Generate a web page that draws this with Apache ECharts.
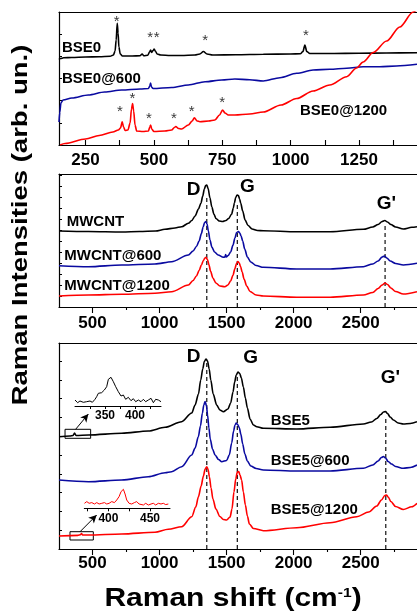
<!DOCTYPE html>
<html><head><meta charset="utf-8">
<script src="https://cdn.jsdelivr.net/npm/echarts@6/dist/echarts.min.js"></script>
<style>html,body{margin:0;padding:0;background:#fff}#c{width:417px;height:612px}</style>
</head><body><div id="c"></div>
<script>
// ---------- Panel 1 : BSE0 (x = Raman shift cm-1, y = intensity arb. un.) ----------
const bse0 = [[153,85.5],[158,86.5],[170,87.2],[200,87.5],[250,88],[300,88.3],[340,88.7],[352,90],[358,94],[362,105],[366,121.7],[369,112],[372,98],[377,91],[385,89],[420,89],[450,89.3],[457,91],[463,89.3],[478,89.8],[484,93],[488,95],[492,92.5],[497,94.5],[501,96],[505,94],[512,91],[525,90],[560,89.5],[600,89.5],[650,90],[668,91],[681,93.5],[694,91],[715,90],[800,90.3],[900,90.8],[1000,91],[1035,91.2],[1045,93.5],[1052,100],[1059,93.5],[1070,91.5],[1150,91.5],[1250,91.8],[1350,92],[1462,92.3]];
const bse0_600 = [[153,23],[156,33],[160,42],[168,45],[200,47],[260,50],[320,53],[382,55],[450,56],[480,56.5],[485,59],[488,62],[491,58],[497,56.5],[565,57.5],[626,60],[687,63.3],[748,65],[796,66],[850,65.3],[900,64],[961,67.3],[1022,71.7],[1082,75],[1143,75.7],[1205,76.7],[1265,78.3],[1326,78.3],[1387,79],[1462,80.7]];
const bse0_1200 = [[157,0],[175,1.5],[250,6],[300,9.5],[350,13],[370,15],[378,17],[384,23.3],[389,18],[395,14.5],[405,15],[413,22],[418,36],[422,41.5],[426,34],[431,20],[437,14],[460,13.5],[480,14],[485,18],[488,20],[492,16],[500,13.5],[540,14],[565,15],[575,17.5],[580,18.5],[590,16.5],[601,16],[626,20],[640,24],[648,27.3],[658,24],[668,23.3],[700,24],[723,25],[740,30],[751,35],[760,32],[772,30],[796,30],[850,31],[900,33],[965,40],[1022,46.5],[1082,54],[1143,60],[1205,68.3],[1241,77],[1265,83],[1302,92.5],[1351,104],[1399,118],[1448,133],[1475,140]];
const bse0Stars = [[364,127.3],[486,110.7],[510,110.7],[687,108.3],[1056,112.7]];
const bse0_1200Stars = [[376,37.3],[421,50],[482,30],[573,30],[638,37.3],[750,45.7]];

// ---------- Panel 2 : MWCNT ----------
const mwcnt = [[250,76],[470,75.5],[720,75],[850,75.5],[970,76],[1040,77.7],[1115,79],[1165,80.3],[1215,83.7],[1240,86.5],[1265,91],[1290,98],[1309,104],[1322,111],[1334,118],[1344,121.5],[1352,122],[1362,118.5],[1376,109],[1390,100],[1405,93],[1421,88.5],[1445,86],[1470,85.5],[1495,86.5],[1515,88.5],[1538,93],[1550,99],[1558,104],[1568,109.5],[1578,112],[1588,111.5],[1597,108],[1605,104],[1620,96],[1638,87],[1660,81.5],[1690,78],[1730,76.5],[1774,76.3],[2023,75.3],[2272,75.3],[2520,77.7],[2590,80],[2630,82.5],[2660,85.5],[2680,86.5],[2700,85],[2725,82.5],[2760,80],[2818,78],[2881,79.7],[2920,80.3]];
const mwcnt_600 = [[250,41.3],[470,40.3],[718,42],[966,43],[1090,45.3],[1215,52],[1250,56],[1275,60.5],[1295,66],[1312,73.5],[1325,80],[1336,84.5],[1345,85.5],[1354,83],[1364,76],[1376,67],[1390,60],[1410,55],[1437,52],[1475,49.7],[1488,50],[1493,52.5],[1498,50],[1512,51.5],[1530,55],[1548,62],[1562,69],[1575,74.5],[1588,75.5],[1598,74],[1608,71],[1620,66],[1635,58],[1655,50],[1680,45],[1720,41.5],[1774,39.7],[2023,38],[2272,38],[2520,40.3],[2590,43],[2630,46],[2660,50],[2677,51],[2695,49],[2720,46],[2760,43.5],[2818,42],[2920,43.7]];
const mwcnt_1200 = [[250,11],[470,12],[718,12.7],[966,13.7],[1090,15.3],[1215,22],[1250,26.5],[1275,31],[1295,36.5],[1312,42],[1327,46.5],[1338,49],[1347,49.8],[1357,47.5],[1368,42.5],[1380,36],[1398,29],[1420,24],[1450,21],[1487,20.3],[1510,22],[1530,26],[1548,32],[1562,38.5],[1574,43.5],[1584,45.5],[1594,44],[1604,40.5],[1616,35],[1630,28],[1650,21],[1675,15.5],[1720,12],[1774,11],[2023,9.7],[2272,9.7],[2520,12],[2590,14.5],[2630,18.5],[2660,22],[2682,24],[2700,22.5],[2725,19],[2760,15.5],[2818,13],[2920,15.3]];
const mwcntBandX = [1352, 1580, 2682];
const mwcntBandTop = [112, 104, 84];

// ---------- Panel 3 : BSE5 ----------
const bse5 = [[250,112.3],[330,113],[355,113.5],[366,116],[377,113.5],[470,114],[718,115.7],[916,118],[1041,121.7],[1165,127.3],[1240,136],[1265,144],[1290,155],[1307,169],[1322,180],[1334,187.5],[1346,190],[1358,188],[1370,180],[1382,169],[1400,155],[1426,144],[1450,139],[1476,137.3],[1510,140],[1530,146],[1548,157],[1560,167],[1572,174],[1585,177],[1598,175.5],[1610,171],[1625,162],[1640,151],[1655,141],[1675,130],[1700,124],[1725,122.3],[1774,120.7],[2023,120],[2272,121.7],[2520,125],[2580,127],[2620,130.5],[2650,134.5],[2670,137],[2685,137.5],[2700,135.5],[2720,132],[2744,129],[2780,126],[2818,125],[2870,125.5],[2920,127.3]];
const bse5_600 = [[250,69],[470,67.3],[718,69],[916,72.3],[1041,76.3],[1090,77.3],[1165,82.3],[1240,94],[1265,101],[1289,112.3],[1305,123],[1319,135.7],[1330,144],[1340,147.5],[1350,143],[1358,134],[1368,121],[1378,110],[1395,100],[1414,94],[1440,89.5],[1464,87.3],[1500,88.5],[1520,94],[1538,106],[1552,118],[1563,124],[1572,126],[1582,124.5],[1594,121.5],[1606,115],[1620,105],[1636,95],[1655,88],[1680,83],[1720,80.5],[1774,79],[2023,78],[2272,78],[2520,80.7],[2590,84],[2630,88],[2655,91.5],[2670,92.5],[2685,91],[2705,87.5],[2730,85],[2760,82.5],[2818,80.7],[2870,81.5],[2920,84]];
const bse5_1200 = [[250,13],[390,13.6],[410,14.2],[418,15.5],[426,14],[470,14],[718,15],[966,16.7],[1065,19.7],[1165,22.3],[1240,32.3],[1270,42],[1290,52.3],[1310,63],[1327,73],[1340,80],[1352,82.3],[1362,79.5],[1372,72],[1384,61],[1398,50],[1420,40],[1450,32.5],[1476,29.5],[1500,29],[1526,32],[1540,40],[1555,57],[1568,70],[1580,77],[1590,77.5],[1600,74],[1612,69],[1625,57],[1640,44],[1655,33],[1670,25],[1700,20.5],[1774,18.3],[2023,21.3],[2272,26.3],[2471,32.3],[2560,37],[2620,43],[2655,49],[2680,53.5],[2692,54],[2705,52],[2725,47.5],[2760,42.5],[2818,39.5],[2881,42.3],[2920,45.7]];
const bse5BandX = [1352, 1580, 2687];
const bse5BandTop = [189, 172, 132];

// ---------- Insets (zoom of the low-wavenumber region) ----------
const inset5 = [[300,6],[304.4,3.3],[308.3,5],[313.9,3.7],[319.4,4.3],[325,5],[328.9,3.7],[333.3,6.7],[336.1,9.3],[338.9,12.7],[341.7,11],[344.4,13.3],[348.9,16],[352.8,19.3],[355.6,26.7],[360,28.7],[363.9,24.3],[367.8,19.3],[372.2,14.3],[376.7,10],[380.6,11],[384.4,6.7],[388.9,8.7],[393.3,5.3],[397.2,7.3],[401.1,4.3],[405.6,6],[410,4.3],[413.9,6.7],[417.8,4.3],[422.2,6],[426.7,7.7],[430.6,3.3],[434.4,6.7],[438.9,6],[443.3,4.3]];
const inset5_1200 = [[371.2,5],[374,6.7],[376.8,5],[380,5.7],[383.2,4.3],[386,5.7],[388.8,4.3],[392,5],[395.2,5.7],[398,4.3],[400.8,5],[404,6.7],[407.2,5.7],[410,8.3],[412.8,11.7],[415.2,16.7],[418,19],[420,14.3],[422,8.3],[424.8,5],[428,4.3],[431.2,5.7],[434,6.7],[436.8,4.3],[439.2,5.7],[442,3.3],[444.8,5],[448,3.3],[451.2,4.3],[454,5],[456.8,3.3],[460,5],[463.2,4.3],[466,5],[468.8,3.7],[472,4.3]];
const insetBox5 = [[295,110.7],[486,119.7]];
const insetBox5_1200 = [[332,9],[506,17.3]];
const insetArrow5 = [[374,119.7],[469,135]];
const insetArrow5_1200 = [[407,17.3],[531,34]];

// ---------- Tick labels ----------
const p1Labels = [250,500,750,1000,1250];
const p1Ticks = [250,375,500,625,750,875,1000,1125,1250,1375];
const p23Labels = [500,1000,1500,2000,2500];
const p23Minor = [750,1250,1750,2250,2750];
const inset5Labels = [350,400];
const inset5Ticks = [325,350,375,400,425];
const inset5_1200Labels = [400,450];
const inset5_1200Ticks = [375,400,425,450];

const FONT = '"Liberation Sans", Arial, Helvetica, sans-serif';
const BLACK = '#000000', BLUE = '#0a0aa0', RED = '#ff0000';

const chart = echarts.init(document.getElementById('c'), null, {renderer:'canvas'});

function lineSeries(data, color, xi, yi, extra) {
  return Object.assign({
    type:'line', data, xAxisIndex:xi, yAxisIndex:yi, showSymbol:false, symbol:'none',
    smooth:0.3, smoothMonotone:'x', clip:true, animation:false, silent:true,
    lineStyle:{color, width:1.6}, itemStyle:{color}
  }, extra || {});
}
function bandSeries(xs, tops, xi, yi) {
  return xs.map((x,i)=>({
    type:'line', data:[[x,0],[x,tops[i]]], xAxisIndex:xi, yAxisIndex:yi, showSymbol:false, symbol:'none',
    animation:false, silent:true, lineStyle:{color:'#222', width:1.3, type:[4,3]}, z:1
  }));
}
function starSeries(data, xi, yi) {
  return {type:'scatter', data, xAxisIndex:xi, yAxisIndex:yi, symbolSize:0, animation:false, silent:true,
    label:{show:true, formatter:'*', position:'inside', offset:[0,4], color:'#000', fontSize:15, fontFamily:FONT}};
}
const plain = v => String(v);
const labelStyle = {color:'#000', fontSize:17, fontWeight:'bold', fontFamily:FONT, formatter:plain};
const axLine = {show:true, onZero:false, lineStyle:{color:'#000', width:1.2}};

function mainX(grid, min, max, ticks, labels, inside, len, margin) {
  return {type:'value', gridIndex:grid, position:'bottom', min, max, axisLine:axLine,
    splitLine:{show:false},
    axisTick:{show:true, inside, length:len, customValues:ticks, lineStyle:{color:'#000', width:1.1}},
    axisLabel:Object.assign({show:true, customValues:labels, margin}, labelStyle)};
}
function minorX(grid, min, max, ticks, len) {
  return {type:'value', gridIndex:grid, position:'bottom', min, max, axisLine:{show:false},
    splitLine:{show:false},
    axisTick:{show:true, inside:false, length:len, customValues:ticks, lineStyle:{color:'#000', width:1.1}},
    axisLabel:{show:false}};
}
function topX(grid, min, max) {
  return {type:'value', gridIndex:grid, position:'top', min, max, axisLine:axLine,
    axisTick:{show:false}, axisLabel:{show:false}, splitLine:{show:false}};
}
function leftY(grid, max, interval) {
  return {type:'value', gridIndex:grid, min:0, max, interval, axisLine:axLine,
    axisTick:{show:true, inside:true, length:3, lineStyle:{color:'#000'}},
    axisLabel:{show:false}, splitLine:{show:false}};
}
function insetX(grid, min, max, ticks, labels) {
  return {type:'value', gridIndex:grid, position:'bottom', min, max,
    axisLine:{show:true, onZero:false, lineStyle:{color:'#000', width:1}},
    splitLine:{show:false},
    axisTick:{show:true, inside:false, length:3, customValues:ticks, lineStyle:{color:'#000'}},
    axisLabel:{show:true, customValues:labels, margin:4, color:'#000', fontSize:12, fontWeight:'bold', fontFamily:FONT, formatter:plain}};
}

const xAxis = [
  mainX(0, 153, 1462, p1Ticks, p1Labels, true, 5, 7),
  topX(0, 153, 1462),
  mainX(1, 250, 2920, p23Labels, p23Labels, false, 6, 8),
  minorX(1, 250, 2920, p23Minor, 3),
  topX(1, 250, 2920),
  mainX(2, 250, 2920, p23Labels, p23Labels, false, 6, 6),
  minorX(2, 250, 2920, p23Minor, 3),
  topX(2, 250, 2920),
  insetX(3, 300, 443.3, inset5Ticks, inset5Labels),
  insetX(4, 371, 474, inset5_1200Ticks, inset5_1200Labels)
];
const yAxis = [
  leftY(0, 133, 22.2),
  leftY(1, 133, 11),
  leftY(2, 206, 18.8),
  {type:'value', gridIndex:3, min:0, max:31, show:false},
  {type:'value', gridIndex:4, min:0, max:23.3, show:false}
];

const boxStyle = {color:'rgba(0,0,0,0)', borderColor:'#000', borderWidth:1};
const arrowLine = (pts) => ({silent:true, symbol:['none','arrow'], symbolSize:[6,8], animation:false,
  lineStyle:{color:'#000', width:1, type:'solid'}, label:{show:false},
  data:[[{coord:pts[0]},{coord:pts[1]}]]});

const series = [
  lineSeries(bse0, BLACK, 0, 0),
  lineSeries(bse0_600, BLUE, 0, 0),
  lineSeries(bse0_1200, RED, 0, 0),
  starSeries(bse0Stars, 0, 0),
  starSeries(bse0_1200Stars, 0, 0),
  ...bandSeries(mwcntBandX, mwcntBandTop, 2, 1),
  lineSeries(mwcnt, BLACK, 2, 1),
  lineSeries(mwcnt_600, BLUE, 2, 1),
  lineSeries(mwcnt_1200, RED, 2, 1),
  ...bandSeries(bse5BandX, bse5BandTop, 5, 2),
  lineSeries(bse5, BLACK, 5, 2, {
    markArea:{silent:true, itemStyle:boxStyle, data:[[{coord:insetBox5[0]},{coord:insetBox5[1]}]]},
    markLine:arrowLine(insetArrow5)}),
  lineSeries(bse5_600, BLUE, 5, 2),
  lineSeries(bse5_1200, RED, 5, 2, {
    markArea:{silent:true, itemStyle:boxStyle, data:[[{coord:insetBox5_1200[0]},{coord:insetBox5_1200[1]}]]},
    markLine:arrowLine(insetArrow5_1200)}),
  lineSeries(inset5, BLACK, 8, 3, {smooth:false, lineStyle:{color:BLACK, width:1}}),
  lineSeries(inset5_1200, RED, 9, 4, {smooth:false, lineStyle:{color:RED, width:1}})
];

function t(text, x, y, size, extra) {
  return Object.assign({type:'text', x, y, silent:true, z:100,
    style:{text, font:'bold '+size+'px '+FONT, fill:'#000', align:'left', verticalAlign:'middle'}}, extra||{});
}

const graphic = [
  t('BSE0', 62, 47.5, 15), t('BSE0@600', 62, 79.2, 15), t('BSE0@1200', 300, 110.8, 15),
  t('MWCNT', 66.7, 221.7, 15), t('MWCNT@600', 64.3, 255.8, 15), t('MWCNT@1200', 64.3, 285.8, 15),
  t('D', 186.7, 189.5, 19), t('G', 240, 186.7, 19), t("G'", 376.7, 203.7, 19),
  t('D', 186.7, 356.3, 19), t('G', 243.3, 357.5, 19), t("G'", 380.7, 377.5, 19),
  t('BSE5', 270.7, 420.5, 15), t('BSE5@600', 270.7, 460.8, 15), t('BSE5@1200', 270.7, 510, 15),
  {type:'text', x:20.5, y:225, rotation:Math.PI/2, scaleX:1.25, silent:true, z:100,
   style:{text:'Raman Intensities (arb. un.)', font:'bold 22px '+FONT, fill:'#000', align:'center', verticalAlign:'middle'}},
  {type:'text', x:233, y:599, scaleX:1.2, silent:true, z:100,
   style:{text:'{a|Raman shift (cm}{b|-1}{a|)}', align:'center', verticalAlign:'middle', fill:'#000',
     rich:{a:{fontSize:25, fontWeight:'bold', fontFamily:FONT, fill:'#000'},
           b:{fontSize:13, fontWeight:'bold', fontFamily:FONT, fill:'#000', verticalAlign:'top'}}}}
];

chart.setOption({
  animation:false,
  backgroundColor:'#fff',
  grid:[
    {left:59, top:12, right:0, height:133},
    {left:59, top:174, right:0, height:133},
    {left:59, top:343, right:0, height:206},
    {left:75, top:375, width:86, height:31},
    {left:84.3, top:485, width:85.7, height:23.3}
  ],
  xAxis, yAxis, series, graphic
});
</script></body></html>
